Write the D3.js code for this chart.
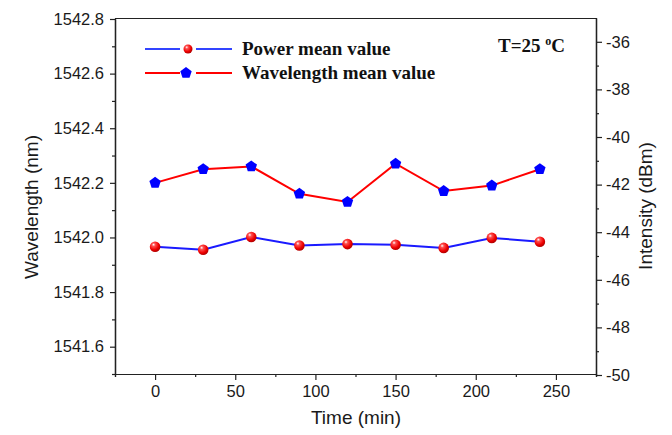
<!DOCTYPE html>
<html>
<head>
<meta charset="utf-8">
<script src="https://cdn.jsdelivr.net/npm/d3@7"></script>
<style>
  body { margin: 0; background: #fff; }
  svg { display: block; }
</style>
</head>
<body>
<div id="chart"></div>
<script>
const times = [0, 30, 60, 90, 120, 150, 180, 210, 240];
const wavelength = [1542.20, 1542.25, 1542.26, 1542.16, 1542.13, 1542.27, 1542.17, 1542.19, 1542.25];
const power = [-44.61, -44.74, -44.20, -44.56, -44.50, -44.53, -44.66, -44.24, -44.40];
const xTicks = [0, 50, 100, 150, 200, 250];
const leftTicks = [1541.6, 1541.8, 1542.0, 1542.2, 1542.4, 1542.6, 1542.8];
const rightTicks = [-50, -48, -46, -44, -42, -40, -38, -36];

const width = 672, height = 435;
const m = { left: 115, right: 596, top: 18, bottom: 374 };

const svg = d3.select("#chart").append("svg")
  .attr("width", width)
  .attr("height", height);

const x = d3.scaleLinear().domain([-25, 275]).range([m.left, m.right]);
const yL = d3.scaleLinear().domain([1541.5, 1542.8]).range([m.bottom, 19]);
const yR = d3.scaleLinear().domain([-50, -35]).range([375, 18]);

// sphere gradient
const defs = svg.append("defs");
const grad = defs.append("radialGradient")
  .attr("id", "sphere")
  .attr("cx", "40%").attr("cy", "35%").attr("r", "65%")
  .attr("fx", "35%").attr("fy", "30%");
grad.append("stop").attr("offset", "0%").attr("stop-color", "#ffffff");
grad.append("stop").attr("offset", "25%").attr("stop-color", "#ff5050");
grad.append("stop").attr("offset", "70%").attr("stop-color", "#ee0000");
grad.append("stop").attr("offset", "100%").attr("stop-color", "#b00000");

const axisColor = "#222";
const font = "'Liberation Sans', Arial, sans-serif";

// frame top line
svg.append("line")
  .attr("x1", m.left).attr("x2", m.right)
  .attr("y1", m.top + 0.5).attr("y2", m.top + 0.5)
  .attr("stroke", axisColor);

function styleAxis(g) {
  g.selectAll("path").attr("stroke", axisColor).attr("stroke-width", 1.2);
  g.selectAll("line").attr("stroke", axisColor).attr("stroke-width", 1.2);
  g.selectAll("text").attr("font-family", font).attr("font-size", "16.5px").attr("fill", "#1a1a1a");
}

// bottom axis
const xMinor = d3.range(-25, 276, 50);
svg.append("g")
  .attr("transform", "translate(0," + m.bottom + ")")
  .call(d3.axisBottom(x).tickValues(xMinor).tickSize(3).tickFormat(""))
  .call(styleAxis);
svg.append("g")
  .attr("transform", "translate(0," + m.bottom + ")")
  .call(d3.axisBottom(x).tickValues(xTicks).tickSize(6).tickPadding(5).tickSizeOuter(0))
  .call(styleAxis);

// left axis
const lMinor = d3.range(15415, 15428, 2).map(v => v / 10);
svg.append("g")
  .attr("transform", "translate(" + m.left + ",0)")
  .call(d3.axisLeft(yL).tickValues(lMinor).tickSize(3).tickFormat("").tickSizeOuter(0))
  .call(styleAxis);
svg.append("g")
  .attr("transform", "translate(" + m.left + ",0)")
  .call(d3.axisLeft(yL).tickValues(leftTicks).tickSize(5).tickPadding(6).tickFormat(d3.format(".1f")).tickSizeOuter(0))
  .call(styleAxis);

// right axis
const rMinor = d3.range(-49, -36, 2);
svg.append("g")
  .attr("transform", "translate(" + m.right + ",0)")
  .call(d3.axisRight(yR).tickValues(rMinor).tickSize(3).tickFormat("").tickSizeOuter(0))
  .call(styleAxis);
svg.append("g")
  .attr("transform", "translate(" + m.right + ",0)")
  .call(d3.axisRight(yR).tickValues(rightTicks).tickSize(6).tickPadding(4).tickSizeOuter(0)
    .tickFormat(d => String(d)))
  .call(styleAxis);
// axis lines spanning the full frame
svg.append("line")
  .attr("x1", m.right + 0.5).attr("x2", m.right + 0.5)
  .attr("y1", m.top).attr("y2", m.bottom)
  .attr("stroke", axisColor).attr("stroke-width", 1.2);
svg.append("line")
  .attr("x1", m.left + 0.5).attr("x2", m.left + 0.5)
  .attr("y1", m.top).attr("y2", m.bottom)
  .attr("stroke", axisColor).attr("stroke-width", 1.2);

// axis titles
svg.append("text")
  .attr("transform", "translate(38,207) rotate(-90)")
  .attr("text-anchor", "middle")
  .attr("font-family", font).attr("font-size", "19px").attr("fill", "#1a1a1a")
  .text("Wavelength (nm)");
svg.append("text")
  .attr("transform", "translate(652,206) rotate(-90)")
  .attr("text-anchor", "middle")
  .attr("font-family", font).attr("font-size", "19px").attr("fill", "#1a1a1a")
  .text("Intensity (dBm)");
svg.append("text")
  .attr("x", 356).attr("y", 424)
  .attr("text-anchor", "middle")
  .attr("font-family", font).attr("font-size", "19px").attr("fill", "#1a1a1a")
  .text("Time (min)");

const pentagon = d3.symbol().type(d3.symbolPentagon || {
  draw(ctx, size) {
    const r = Math.sqrt(size / 2.378);
    for (let i = 0; i < 5; i++) {
      const a = -Math.PI / 2 + i * 2 * Math.PI / 5;
      const px = r * Math.cos(a), py = r * Math.sin(a);
      if (i === 0) ctx.moveTo(px, py); else ctx.lineTo(px, py);
    }
    ctx.closePath();
  }
}).size(85);

const wlData = times.map((t, i) => ({ t, v: wavelength[i] }));
const pwData = times.map((t, i) => ({ t, v: power[i] }));

// wavelength line (red) + blue pentagons
svg.append("path")
  .datum(wlData)
  .attr("fill", "none")
  .attr("stroke", "#ff0000")
  .attr("stroke-width", 2)
  .attr("d", d3.line().x(d => x(d.t)).y(d => yL(d.v)));

// power line (blue) + red spheres
svg.append("path")
  .datum(pwData)
  .attr("fill", "none")
  .attr("stroke", "#1a1aff")
  .attr("stroke-width", 2)
  .attr("d", d3.line().x(d => x(d.t)).y(d => yR(d.v)));

svg.selectAll(".pent")
  .data(wlData)
  .join("path")
  .attr("transform", d => "translate(" + x(d.t) + "," + yL(d.v) + ")")
  .attr("d", pentagon)
  .attr("fill", "#0000ff");

svg.selectAll(".sph")
  .data(pwData)
  .join("circle")
  .attr("cx", d => x(d.t))
  .attr("cy", d => yR(d.v))
  .attr("r", 5.3)
  .attr("fill", "url(#sphere)");

// legend
const legendFont = "'Liberation Serif', 'Times New Roman', serif";
const legend = svg.append("g");
[
  { y: 49, line: "#3344ff", label: "Power mean value", marker: "sphere" },
  { y: 73, line: "#ff0000", label: "Wavelength mean value", marker: "pent" }
].forEach(it => {
  legend.append("line").attr("x1", 145).attr("x2", 180).attr("y1", it.y).attr("y2", it.y)
    .attr("stroke", it.line).attr("stroke-width", 2);
  legend.append("line").attr("x1", 196).attr("x2", 232).attr("y1", it.y).attr("y2", it.y)
    .attr("stroke", it.line).attr("stroke-width", 2);
  if (it.marker === "sphere") {
    legend.append("circle").attr("cx", 188).attr("cy", it.y).attr("r", 4.5).attr("fill", "url(#sphere)");
  } else {
    legend.append("path").attr("transform", "translate(186," + it.y + ")")
      .attr("d", pentagon).attr("fill", "#0000ff");
  }
  legend.append("text")
    .attr("x", 242).attr("y", it.y + 6)
    .attr("font-family", legendFont).attr("font-weight", "bold").attr("font-size", "19px")
    .attr("fill", "#111")
    .text(it.label);
});

const tLabel = svg.append("text")
  .attr("x", 498).attr("y", 52)
  .attr("font-family", legendFont).attr("font-weight", "bold").attr("font-size", "19px")
  .attr("fill", "#111");
tLabel.append("tspan").text("T=25 ");
tLabel.append("tspan").attr("font-size", "12px").attr("dy", -7).text("o");
tLabel.append("tspan").attr("dy", 7).text("C");
</script>
</body>
</html>
